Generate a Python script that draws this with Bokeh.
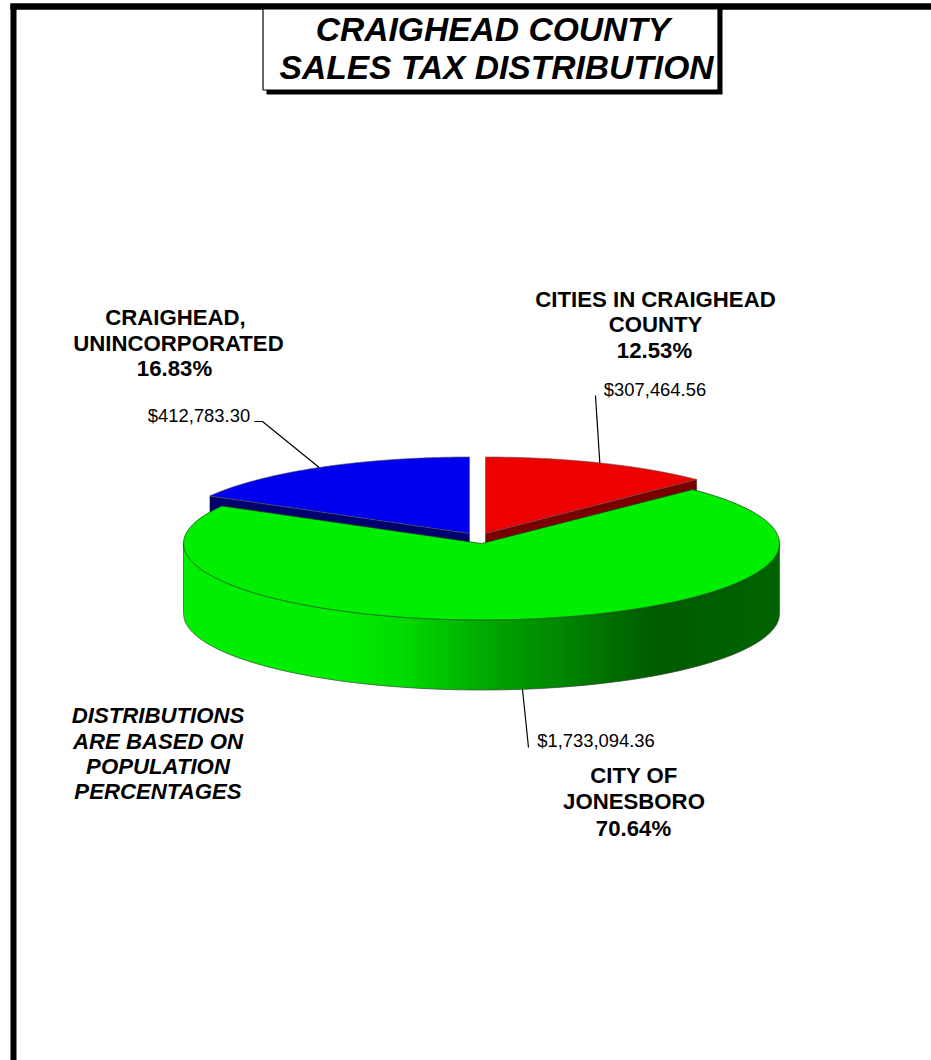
from bokeh.plotting import figure
from bokeh.models import Range1d, Label
from bokeh.embed import file_html
from bokeh.resources import INLINE
import numpy as np

# ---- data
categories = ["CITIES IN CRAIGHEAD COUNTY", "CITY OF JONESBORO", "CRAIGHEAD, UNINCORPORATED"]
percents = [12.53, 70.64, 16.83]
amounts = ["$307,464.56", "$1,733,094.36", "$412,783.30"]
top_colors = ["#ee0000", "#00ee00", "#0000ee"]
side_colors = ["#7a0000", "#006000", "#00006e"]
title_lines = ["CRAIGHEAD COUNTY", "SALES TAX DISTRIBUTION"]
note_lines = ["DISTRIBUTIONS", "ARE BASED ON", "POPULATION", "PERCENTAGES"]

W, H = 931, 1060
p = figure(width=W, height=H, output_backend="svg", toolbar_location=None,
           x_range=Range1d(0, W), y_range=Range1d(H, 0), min_border=0,
           margin=(0, 0, 0, 0))
p.axis.visible = False
p.grid.visible = False
p.outline_line_color = None
p.background_fill_color = "white"
p.border_fill_color = "white"

FONT = "Liberation Sans"
def txt(x, y, s, size, style="normal", align="center"):
    p.add_layout(Label(x=x, y=y, text=s, text_font=FONT, text_font_size=f"{size}px",
                       text_font_style=style, text_align=align, text_baseline="middle",
                       text_color="black"))

# outer frame
p.line([13, 13], [1060, 6], line_color="black", line_width=6)
p.line([10, 931], [6, 6], line_color="black", line_width=6)

# title box with shadow
p.quad(left=266, right=722, top=8, bottom=94, fill_color="black", line_color=None)
p.quad(left=262.5, right=717.5, top=6, bottom=89.5, fill_color="white", line_color="black", line_width=1.2)
p.line([10, 931], [6, 6], line_color="black", line_width=6)
txt(492.5, 29, title_lines[0], 33.6, "bold italic")
txt(496, 66.5, title_lines[1], 33.6, "bold italic")

# pie geometry
A, B, DEPTH = 298.0, 76.5, 70.0
centers = [(485.0, 533.0), (481.0, 543.0), (469.0, 533.0)]
fr = np.array(percents) / sum(percents)
edges = np.concatenate([[0], np.cumsum(fr)]) * 2 * np.pi

def arc(i, n=200):
    cx, cy = centers[i]
    t = np.linspace(edges[i], edges[i + 1], n)
    return cx + A * np.sin(t), cy - B * np.cos(t)

def sector(i):
    cx, cy = centers[i]
    x, y = arc(i)
    return np.r_[cx, x], np.r_[cy, y]

# back slices: radial side wall first, then top
for i in (0, 2):
    cx, cy = centers[i]
    t = edges[i + 1] if i == 0 else edges[i]
    ex, ey = cx + A * np.sin(t), cy - B * np.cos(t)
    p.patch([cx, ex, ex, cx], [cy, ey, ey + DEPTH, cy + DEPTH], fill_color=side_colors[i],
            line_color="#333333", line_width=0.5)
    sx, sy = sector(i)
    p.patch(sx, sy, fill_color=top_colors[i], line_color="#555555", line_width=0.6)

# green outer wall as a horizontal gradient of thin strips
gcx, gcy = centers[1]
stop_x = [183, 340, 400, 450, 500, 560, 610, 650, 779]
green = [238, 238, 220, 190, 160, 135, 110, 92, 100]
xs = np.arange(gcx - A, gcx + A, 2.0)
sx_list, sy_list, cols = [], [], []
for x0 in xs:
    x1 = min(x0 + 2.8, gcx + A)
    xx = np.linspace(x0, x1, 4)
    yy = gcy + B * np.sqrt(np.clip(1 - ((xx - gcx) / A) ** 2, 0, 1))
    sx_list.append(np.r_[xx, xx[::-1]])
    sy_list.append(np.r_[yy, (yy + DEPTH)[::-1]])
    cols.append("#00%02x00" % int(np.interp(x0, stop_x, green)))
p.patches(sx_list, sy_list, fill_color=cols, line_color=None)
# wall outline
t = np.linspace(-np.pi / 2, np.pi / 2, 300)
ox, oy = gcx + A * np.sin(t), gcy + DEPTH + B * np.cos(t)
p.line(np.r_[gcx - A, ox, gcx + A], np.r_[gcy, oy, gcy], line_color="#444444", line_width=0.7)

# green top
sx, sy = sector(1)
p.patch(sx, sy, fill_color=top_colors[1], line_color="#1a3a1a", line_width=0.7)

# leader lines
lead_line = dict(line_color="black", line_width=1.2)
cx, cy = centers[0]
mid = (edges[0] + edges[1]) / 2
p.line([595, cx + A * np.sin(mid)], [395, cy - B * np.cos(mid)], **lead_line)
cx, cy = centers[2]
mid = (edges[2] + edges[3]) / 2
p.line([254, 262, cx + A * np.sin(mid)], [421, 421, cy - B * np.cos(mid)], **lead_line)
p.line([522, 528], [689, 747], **lead_line)

# labels
txt(654.5, 389, amounts[0], 18.4)
txt(198.5, 414.5, amounts[2], 18.4)
txt(595.5, 739.5, amounts[1], 18.4)

for xx, yy, s in zip((655, 655, 654), (298.5, 323.5, 350), ("CITIES IN CRAIGHEAD", "COUNTY", f"{percents[0]:.2f}%")):
    txt(xx, yy, s, 22.2, "bold")
for xx, yy, s in zip((175, 178, 174), (317, 343, 368), ("CRAIGHEAD,", "UNINCORPORATED", f"{percents[2]:.2f}%")):
    txt(xx, yy, s, 22.2, "bold")
for xx, yy, s in zip((633.5, 633.5, 633), (775, 801, 828), ("CITY OF", "JONESBORO", f"{percents[1]:.2f}%")):
    txt(xx, yy, s, 22.2, "bold")
for yy, s in zip((715, 741, 766, 791), note_lines):
    txt(157.5, yy, s, 22.2, "bold italic")

open("out.html", "w").write(file_html(p, INLINE))
